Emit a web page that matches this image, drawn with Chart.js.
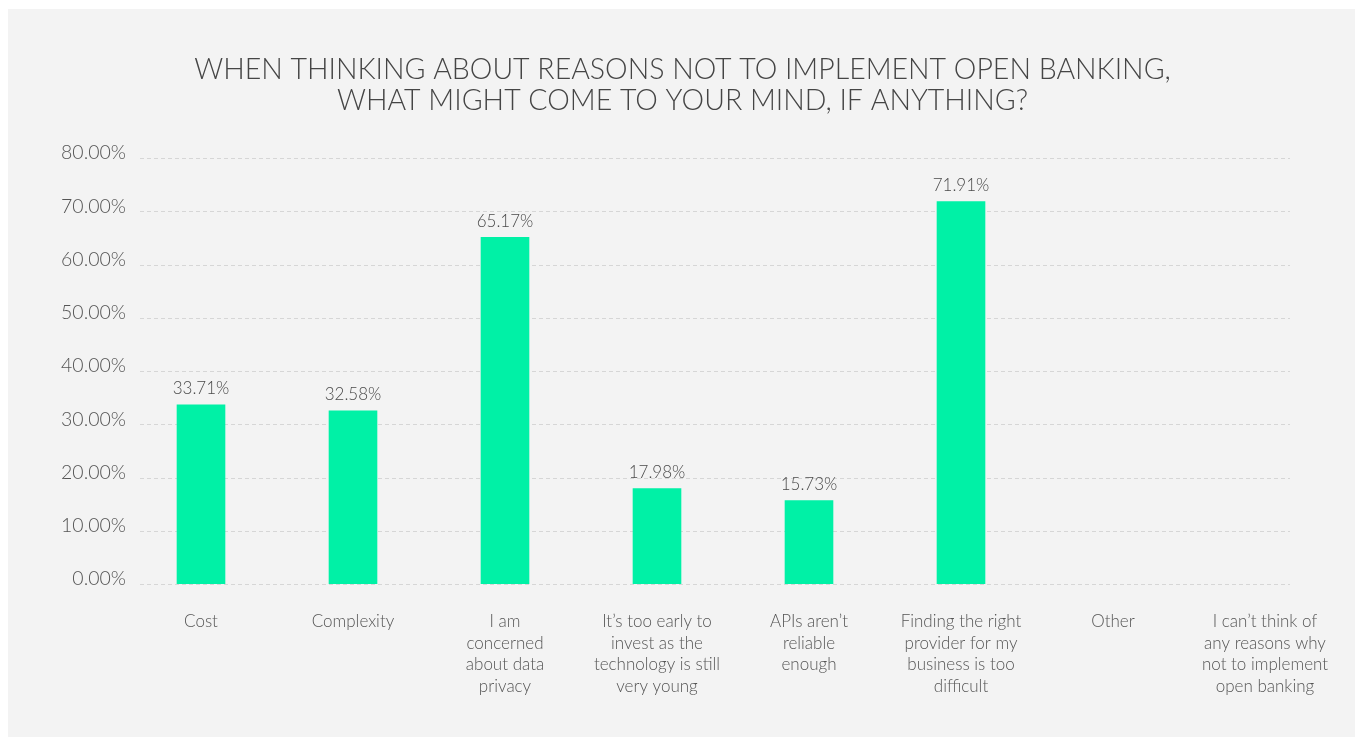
<!DOCTYPE html>
<html>
<head>
<meta charset="utf-8">
<script src="https://cdn.jsdelivr.net/npm/chart.js@4.4.1/dist/chart.umd.min.js"></script>
<style>
  html, body { margin: 0; padding: 0; background: #ffffff; }
  #panel { position: absolute; left: 8px; top: 9px; width: 1347px; height: 728px; background: #f3f3f3; }
  #wrap { position: absolute; left: 0; top: 0; width: 1357px; height: 737px; }
</style>
</head>
<body>
<div id="panel"></div>
<div id="wrap"><canvas id="c" width="1357" height="737"></canvas></div>
<script>
const titleLines = [
  "WHEN THINKING ABOUT REASONS NOT TO IMPLEMENT OPEN BANKING,",
  "WHAT MIGHT COME TO YOUR MIND, IF ANYTHING?"
];
const categories = [
  "Cost",
  "Complexity",
  ["I am", "concerned", "about data", "privacy"],
  ["It’s too early to", "invest as the", "technology is still", "very young"],
  ["APIs aren’t", "reliable", "enough"],
  ["Finding the right", "provider for my", "business is too", "difficult"],
  "Other",
  ["I can’t think of", "any reasons why", "not to implement", "open banking"]
];
const values = [33.71, 32.58, 65.17, 17.98, 15.73, 71.91, null, null];
const yTicks = [0, 10, 20, 30, 40, 50, 60, 70, 80];

const FONT = "Lato, 'Open Sans', sans-serif";
const TEXT = "#555555";

const gridPlugin = {
  id: 'dashGrid',
  beforeDatasetsDraw(chart) {
    const y = chart.scales.y;
    const ctx = chart.ctx;
    ctx.save();
    ctx.strokeStyle = '#d6d6d6';
    ctx.lineWidth = 1;
    ctx.setLineDash([4, 3]);
    yTicks.forEach(v => {
      const py = Math.round(y.getPixelForValue(v)) + 0.5;
      ctx.beginPath();
      ctx.moveTo(140, py);
      ctx.lineTo(1290, py);
      ctx.stroke();
    });
    ctx.restore();
  }
};

const labelPlugin = {
  id: 'barLabels',
  afterDatasetsDraw(chart) {
    const ctx = chart.ctx;
    const meta = chart.getDatasetMeta(0);
    ctx.save();
    ctx.font = "300 17px " + FONT;
    ctx.fillStyle = "#4a4a4a";
    ctx.textAlign = 'center';
    ctx.textBaseline = 'middle';
    meta.data.forEach((bar, i) => {
      const v = values[i];
      if (v === null || v === undefined) return;
      ctx.fillText(v.toFixed(2) + '%', bar.x, bar.y - 16);
    });
    ctx.restore();
  }
};

new Chart(document.getElementById('c'), {
  type: 'bar',
  data: {
    labels: categories,
    datasets: [{
      data: values,
      backgroundColor: '#00f1a6',
      borderWidth: 0,
      barPercentage: 0.8,
      categoryPercentage: 0.4
    }]
  },
  options: {
    responsive: false,
    animation: false,
    devicePixelRatio: 1,
    layout: { padding: { left: 24, right: 16, top: 0, bottom: 13 } },
    plugins: {
      legend: { display: false },
      tooltip: { enabled: false },
      title: {
        display: true,
        text: titleLines,
        color: '#454545',
        font: { family: FONT, size: 28.5, weight: '300', lineHeight: 1.09 },
        padding: { top: 54, bottom: 42 }
      }
    },
    scales: {
      x: {
        grid: { display: false, drawTicks: false },
        border: { display: false },
        ticks: {
          color: TEXT,
          font: { family: FONT, size: 17, weight: '300', lineHeight: 1.265 },
          padding: 27,
          maxRotation: 0,
          autoSkip: false
        }
      },
      y: {
        min: 0,
        max: 80,
        afterFit(scale) { scale.width = 101; },
        afterBuildTicks(scale) { scale.ticks = yTicks.map(v => ({ value: v })); },
        grid: { display: false, drawTicks: false },
        border: { display: false },
        ticks: {
          color: TEXT,
          font: { family: FONT, size: 19.5, weight: '300' },
          padding: -1,
          labelOffset: -5,
          callback: v => Number(v).toFixed(2) + '%'
        }
      }
    }
  },
  plugins: [gridPlugin, labelPlugin]
});
</script>
</body>
</html>
